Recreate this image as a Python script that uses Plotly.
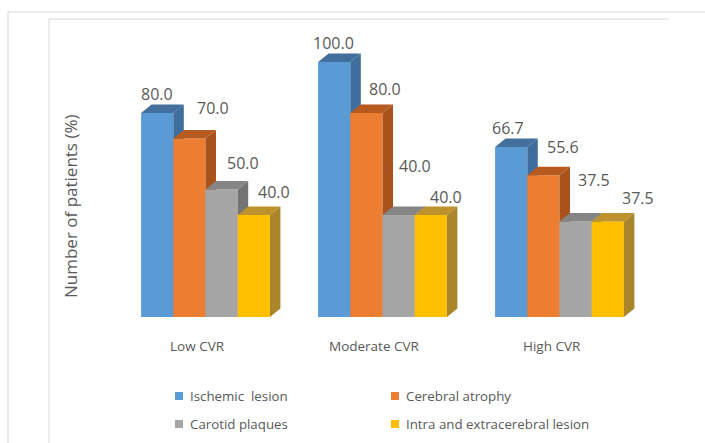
import plotly.graph_objects as go

# ---- data -------------------------------------------------------------
categories = ["Low CVR", "Moderate CVR", "High CVR"]
series_names = ["Ischemic\u00a0 lesion", "Cerebral atrophy",
                "Carotid plaques", "Intra and extracerebral lesion"]
ischemic = [80.0, 100.0, 66.7]
atrophy = [70.0, 80.0, 55.6]
carotid = [50.0, 40.0, 37.5]
intra_extra = [40.0, 40.0, 37.5]
series_values = [ischemic, atrophy, carotid, intra_extra]

# ---- styling ----------------------------------------------------------
front_colors = ["#5B9BD5", "#ED7D31", "#A5A5A5", "#FFC000"]
side_colors = ["#3F6E9C", "#A9521C", "#737373", "#AA852A"]
top_colors = ["#426F9B", "#B65A20", "#858585", "#BD912B"]
text_color = "#595959"
font_family = "Open Sans"

W, H = 705, 443
PX_X = 177.0        # pixels per category step
PX_Y = 2.55         # pixels per percentage point
BAR_W = 32.2 / PX_X  # bar width in x units
DEPTH_X = 10.5 / PX_X
DEPTH_Y = 8.5 / PX_Y

# axis ranges chosen so the baseline and groups land in the layout
x0 = -205.5 / PX_X
y0 = -(H - 317) / PX_Y
x_range = [x0, x0 + W / PX_X]
y_range = [y0, y0 + H / PX_Y]

# label nudges (pixels) per series / category: (dx, dy above bar top)
label_nudge = [
    [(0, 19), (-1, 19), (-3, 19)],
    [(24, 31), (19, 24), (20, 28)],
    [(21, 27), (16, 49), (18, 41)],
    [(20, 23), (15, 18), (30, 23)],
]

fig = go.Figure()
annotations = []

for s, vals in enumerate(series_values):
    centers = [c + (s - 1.5) * BAR_W for c in range(len(categories))]
    # front faces
    fig.add_trace(go.Bar(
        x=centers, y=vals, width=[BAR_W] * len(vals),
        marker=dict(color=front_colors[s], line=dict(width=0)),
        name=series_names[s], showlegend=False, zorder=2 * s,
        hoverinfo="name+y",
    ))
    # side and top faces
    sx, sy, tx, ty = [], [], [], []
    for xc, v in zip(centers, vals):
        xl, xr = xc - BAR_W / 2, xc + BAR_W / 2
        sx += [xr, xr + DEPTH_X, xr + DEPTH_X, xr, xr, None]
        sy += [0, DEPTH_Y, v + DEPTH_Y, v, 0, None]
        tx += [xl, xr, xr + DEPTH_X, xl + DEPTH_X, xl, None]
        ty += [v, v, v + DEPTH_Y, v + DEPTH_Y, v, None]
    fig.add_trace(go.Scatter(
        x=sx, y=sy, mode="lines", fill="toself", fillcolor=side_colors[s],
        line=dict(width=0, color=side_colors[s]), showlegend=False,
        hoverinfo="skip", zorder=2 * s + 1,
    ))
    fig.add_trace(go.Scatter(
        x=tx, y=ty, mode="lines", fill="toself", fillcolor=top_colors[s],
        line=dict(width=0, color=top_colors[s]), showlegend=False,
        hoverinfo="skip", zorder=2 * s + 1,
    ))
    # value labels
    for c, (xc, v) in enumerate(zip(centers, vals)):
        dx, dy = label_nudge[s][c]
        annotations.append(dict(
            x=xc, y=v, xref="x", yref="y", text=f"{v:.1f}",
            showarrow=False, xshift=dx, yshift=dy,
            font=dict(family=font_family, size=16, color=text_color),
        ))

# category labels under the groups
for c, name in enumerate(categories):
    annotations.append(dict(
        x=c, y=0, xref="x", yref="y", text=name, showarrow=False,
        xshift=-8, yshift=-29,
        font=dict(family=font_family, size=13.5, color=text_color),
    ))

# axis title
annotations.append(dict(
    x=71 / W, y=1 - 207 / H, xref="paper", yref="paper",
    xanchor="center", yanchor="middle",
    text="Number of patients (%)", textangle=-90, showarrow=False,
    font=dict(family=font_family, size=17, color=text_color),
))

# legend drawn as swatches + text in two columns
shapes = []
legend_cols = [179, 395]
legend_rows = [396, 424]
for s, name in enumerate(series_names):
    cx = legend_cols[s % 2]
    cy = legend_rows[s // 2]
    shapes.append(dict(
        type="rect", xref="paper", yref="paper",
        x0=(cx - 4) / W, x1=(cx + 4) / W,
        y0=1 - (cy + 4) / H, y1=1 - (cy - 4) / H,
        fillcolor=front_colors[s], line=dict(width=0),
    ))
    annotations.append(dict(
        x=(cx + 9) / W, y=1 - cy / H, xref="paper", yref="paper",
        xanchor="left", yanchor="middle", text=name, showarrow=False,
        font=dict(family=font_family, size=13.3, color=text_color),
    ))

# chart frames
frame_color = "#D9D9D9"
shapes.append(dict(
    type="path", xref="paper", yref="paper",
    path=f"M {8 / W} 0 L {8 / W} {1 - 12 / H} L 1 {1 - 12 / H}",
    line=dict(color=frame_color, width=1),
))
shapes.append(dict(
    type="path", xref="paper", yref="paper",
    path=f"M {49 / W} 0 L {49 / W} {1 - 19 / H} L {669 / W} {1 - 19 / H}",
    line=dict(color=frame_color, width=1),
))

fig.update_layout(
    width=W, height=H,
    margin=dict(l=0, r=0, t=0, b=0),
    paper_bgcolor="white", plot_bgcolor="white",
    xaxis=dict(range=x_range, visible=False, fixedrange=True),
    yaxis=dict(range=y_range, visible=False, fixedrange=True),
    barmode="overlay",
    showlegend=False,
    annotations=annotations,
    shapes=shapes,
)

fig.write_html("out.html")
